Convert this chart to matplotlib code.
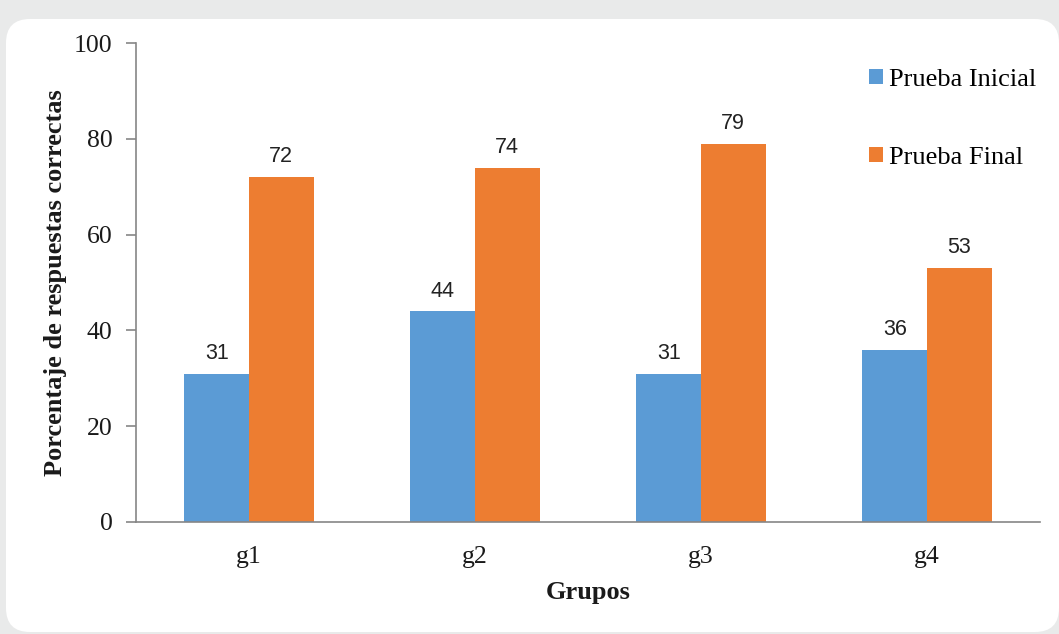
import numpy as np
import matplotlib
matplotlib.use("Agg")
import matplotlib.pyplot as plt
from matplotlib.patches import FancyBboxPatch
from matplotlib.transforms import IdentityTransform

# data
groups = ["g1", "g2", "g3", "g4"]
inicial = [31, 44, 31, 36]
final = [72, 74, 79, 53]
series_names = ["Prueba Inicial", "Prueba Final"]
yticks = [0, 20, 40, 60, 80, 100]

blue = "#5B9BD5"
orange = "#ED7D31"
axis_gray = "#868686"
serif = ["Liberation Serif", "DejaVu Serif"]

W, H = 1059, 634
fig = plt.figure(figsize=(W / 100, H / 100), dpi=100)
fig.patch.set_facecolor("#e9eaea")

# white rounded panel, drawn in pixel coordinates
panel = FancyBboxPatch((6 + 24, H - 632 + 24), (1059 - 6) - 48, (632 - 19) - 48,
                       boxstyle="round,pad=24", transform=IdentityTransform(),
                       facecolor="white", edgecolor="none", zorder=0)
fig.add_artist(panel)

ax = fig.add_axes([136 / W, 1 - 522 / H, (1040 - 136) / W, (522 - 43) / H])
ax.set_facecolor("none")

x = np.arange(len(groups))
width = 1 / 3.5
b1 = ax.bar(x - width / 2, inicial, width, color=blue, label=series_names[0], zorder=2)
b2 = ax.bar(x + width / 2, final, width, color=orange, label=series_names[1], zorder=2)

for bars in (b1, b2):
    for rect in bars:
        ax.annotate(f"{rect.get_height():.0f}",
                    (rect.get_x() + rect.get_width() / 2, rect.get_height()),
                    xytext=(0, 7), textcoords="offset points", ha="center", va="bottom",
                    fontsize=15.5, color="#222222", family=["Liberation Sans", "DejaVu Sans"])

ax.set_xlim(-0.5, len(groups) - 0.5)
ax.set_ylim(0, 100)
ax.set_yticks(yticks)
ax.set_xticks(x)
ax.set_xticklabels(groups)

for side in ("top", "right"):
    ax.spines[side].set_visible(False)
for side in ("left", "bottom"):
    ax.spines[side].set_color(axis_gray)
    ax.spines[side].set_linewidth(1.2)

ax.tick_params(axis="y", direction="out", length=7, width=1.2, color=axis_gray, pad=10)
ax.tick_params(axis="x", length=0, pad=17)
for lab in ax.get_xticklabels() + ax.get_yticklabels():
    lab.set_family(serif)
    lab.set_fontsize(18.5)
    lab.set_color("#1a1a1a")

ax.set_ylabel("Porcentaje de respuestas correctas", family=serif, fontsize=19,
              fontweight="bold", labelpad=5, color="#1a1a1a")
ax.set_xlabel("Grupos", family=serif, fontsize=19, fontweight="bold", labelpad=10,
              color="#1a1a1a")

leg = ax.legend(loc="upper left", bbox_to_anchor=(0.785, 0.995), frameon=False,
                prop={"family": serif, "size": 19}, handlelength=0.5, handleheight=0.5,
                handletextpad=0.25, labelspacing=2.1)

fig.savefig("out.png", dpi=100, facecolor=fig.get_facecolor())
